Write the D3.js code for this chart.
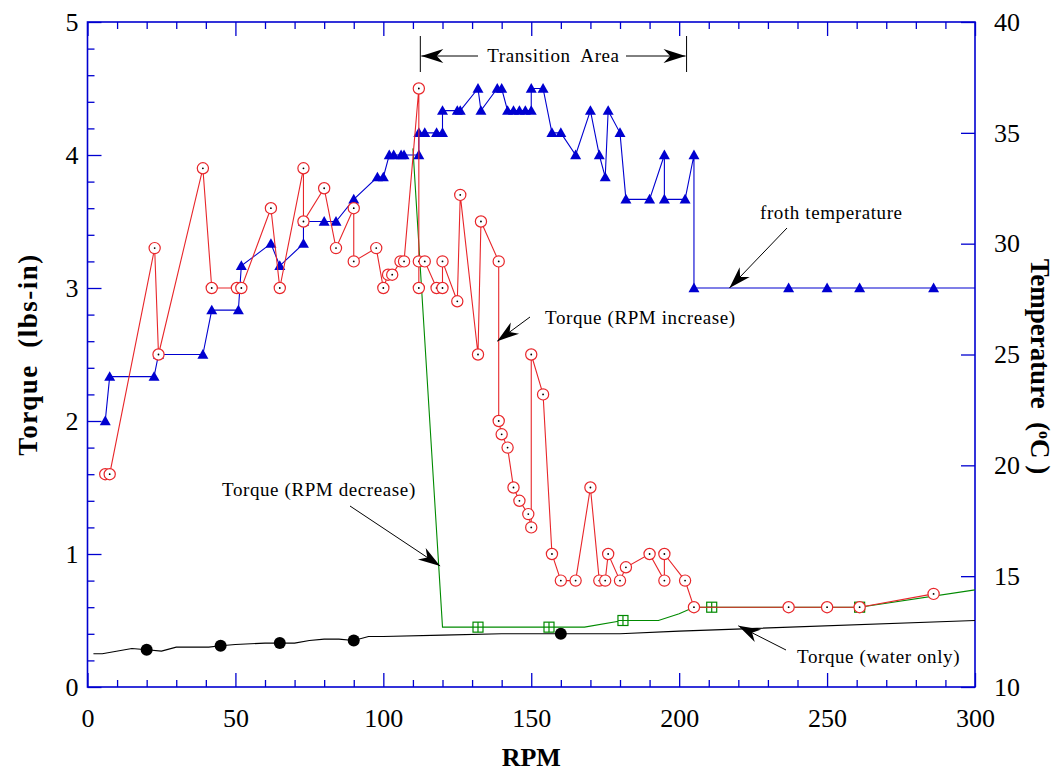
<!DOCTYPE html>
<html><head><meta charset="utf-8">
<script src="https://cdn.jsdelivr.net/npm/d3@7"></script>
<style>
body{margin:0;background:#fff}
text{font-family:"Liberation Serif","Times New Roman",serif;fill:#000}
</style>
</head><body>
<svg id="chart" width="1063" height="773"></svg>
<script>
// ---------- data ----------
// Froth temperature (°C) vs RPM (blue triangles, right axis)
const tempRpm = [6,7.5,22.5,24,39,42,51,52,62,65,73,73,80,84,90,98,100,102,103.5,106,107,112,112,114,118,120,120,125,126,132,133,138.5,140,142,144,146,148,150,150,154,157,160,165,170,173,175,176,180,182,190,195,195,202,205,205,237,250,261,286];
const tempC   = [22,24,24,25,25,27,27,29,30,29,30,31,31,31,32,33,33,34,34,34,34,34,35,35,35,35,36,36,36,37,36,37,37,36,36,36,36,36,37,37,35,35,34,36,34,33,36,35,32,32,34,32,32,34,28,28,28,28,28];
const tempEndRpm = 300, tempEndC = 28;

// Torque, RPM increase (red open circles)
const incRpm = [6,7.5,22.7,24,39,42,50.5,52,62,65,73,73,80,84,90,90,97.6,100,101.6,103,105.8,107,112,112,112,114,118,120,120,125,126,132,133,139,139,140,142,144,146,149,150,150,154,157,160,165,170,173,175,176,180,182,190,195,195,202,205,237,250,261,286];
const incTorque = [1.6,1.6,3.3,2.5,3.9,3.0,3.0,3.0,3.6,3.0,3.9,3.5,3.75,3.3,3.6,3.2,3.3,3.0,3.1,3.1,3.2,3.2,4.5,3.0,3.2,3.2,3.0,3.0,3.2,2.9,3.7,2.5,3.5,3.2,2.0,1.9,1.8,1.5,1.4,1.3,1.2,2.5,2.2,1.0,0.8,0.8,1.5,0.8,0.8,1.0,0.8,0.9,1.0,0.8,1.0,0.8,0.6,0.6,0.6,0.6,0.7];

// Torque, RPM decrease (green line + crossed squares)
const decRpm = [110,120,132,156,168,181,193,200,205,211,261,300];
const decTorque = [4.05,0.45,0.45,0.45,0.45,0.5,0.5,0.55,0.6,0.6,0.6,0.73];
const decMarkRpm = [132,156,181,211,261];
const decMarkTorque = [0.45,0.45,0.5,0.6,0.6];

// Torque, water only (black line + filled circles)
const waterRpm = [2,5,15,20,25,30,41,45,50,60,65,70,75,80,85,90,95,100,120,140,160,180,200,300];
const waterTorque = [0.25,0.25,0.29,0.28,0.27,0.30,0.30,0.31,0.32,0.33,0.33,0.33,0.35,0.36,0.36,0.35,0.38,0.38,0.39,0.40,0.40,0.40,0.42,0.50];
const waterMarkRpm = [20,45,65,90,160];
const waterMarkTorque = [0.28,0.31,0.33,0.35,0.40];

// ticks
const xTickVals = [0,50,100,150,200,250,300];
const yTickVals = [0,1,2,3,4,5];
const tTickVals = [10,15,20,25,30,35,40];

// annotation anchor
const transitionRange = [112.5, 202.5];

// ---------- drawing ----------
const BLUE = "#0000d0", RED = "#e8262a", GREEN = "#008a00";
const svg = d3.select("#chart");
const L = 87.5, R = 975, T = 22, B = 687;
const x = d3.scaleLinear([0,300],[L,R]);
const y = d3.scaleLinear([0,5],[B,T]);
const yT = d3.scaleLinear([10,40],[B,T]);

function styleAxis(g){
  g.select(".domain").remove();
  g.selectAll(".tick line").attr("stroke",BLUE).attr("stroke-width",1.3);
  g.selectAll(".tick text").style("font-family","'Liberation Serif',serif").style("font-size","26px").attr("fill","#000");
  return g;
}
const minorX = d3.range(0,301,10).filter(v=>v%50!==0);
const minorY = d3.range(0,5.01,0.2).map(v=>+v.toFixed(1)).filter(v=>Math.abs(v-Math.round(v))>1e-6);

// bottom
styleAxis(svg.append("g").attr("transform",`translate(0,${B})`).call(d3.axisBottom(x).tickValues(minorX).tickSize(-7).tickFormat("")));
styleAxis(svg.append("g").attr("transform",`translate(0,${B})`).call(d3.axisBottom(x).tickValues(xTickVals).tickSize(-14).tickPadding(22).tickFormat(d3.format("d"))));
// top
styleAxis(svg.append("g").attr("transform",`translate(0,${T})`).call(d3.axisTop(x).tickValues(minorX).tickSize(-7).tickFormat("")));
styleAxis(svg.append("g").attr("transform",`translate(0,${T})`).call(d3.axisTop(x).tickValues(xTickVals).tickSize(-14).tickFormat("")));
// left
styleAxis(svg.append("g").attr("transform",`translate(${L},0)`).call(d3.axisLeft(y).tickValues(minorY).tickSize(-7).tickFormat("")));
styleAxis(svg.append("g").attr("transform",`translate(${L},0)`).call(d3.axisLeft(y).tickValues(yTickVals).tickSize(-14).tickPadding(9).tickFormat(d3.format("d"))));
// right
styleAxis(svg.append("g").attr("transform",`translate(${R},0)`).call(d3.axisRight(yT).tickValues(tTickVals).tickSize(-14).tickPadding(19).tickFormat(d3.format("d"))));

// frame
svg.append("rect").attr("x",L).attr("y",T).attr("width",R-L).attr("height",B-T)
  .attr("fill","none").attr("stroke",BLUE).attr("stroke-width",1.6);

// axis titles
svg.append("text").attr("x",(L+R)/2).attr("y",766).attr("text-anchor","middle")
  .style("font-size","26px").style("font-weight","bold").text("RPM");
svg.append("text").attr("transform",`translate(37,${(T+B)/2}) rotate(-90)`).attr("text-anchor","middle")
  .style("font-size","27px").style("font-weight","bold").style("letter-spacing","1.5px")
  .attr("xml:space","preserve").text("Torque  (lbs-in)");
const tt = svg.append("text").attr("transform",`translate(1031,${(T+B)/2+12}) rotate(90)`).attr("text-anchor","middle")
  .style("font-size","27px").style("font-weight","bold").attr("xml:space","preserve");
tt.append("tspan").text("Temperature  (");
tt.append("tspan").attr("baseline-shift","super").style("font-size","16px").text("o");
tt.append("tspan").text("C )");

// ---------- series ----------
const line = d3.line().x(d=>x(d[0])).y(d=>d[1]);

// water only
const waterPts = waterRpm.map((r,i)=>[r,y(waterTorque[i])]);
svg.append("path").attr("d",line(waterPts)).attr("fill","none").attr("stroke","#000").attr("stroke-width",1.1);
svg.append("g").selectAll("circle").data(waterMarkRpm).join("circle")
  .attr("cx",d=>x(d)).attr("cy",(d,i)=>y(waterMarkTorque[i])).attr("r",6).attr("fill","#000");

// RPM decrease
const decPts = decRpm.map((r,i)=>[r,y(decTorque[i])]);
svg.append("path").attr("d",line(decPts)).attr("fill","none").attr("stroke",GREEN).attr("stroke-width",1.1);
const dm = svg.append("g").selectAll("g").data(decMarkRpm).join("g")
  .attr("transform",(d,i)=>`translate(${x(d)},${y(decMarkTorque[i])})`);
dm.append("rect").attr("x",-5).attr("y",-5).attr("width",10).attr("height",10).attr("fill","#fff").attr("stroke",GREEN).attr("stroke-width",1.2);
dm.append("path").attr("d","M0,-5V5M-5,0H5").attr("stroke",GREEN).attr("stroke-width",1.2);

// temperature
const tempPts = tempRpm.map((r,i)=>[r,yT(tempC[i])]).concat([[tempEndRpm,yT(tempEndC)]]);
svg.append("path").attr("d",line(tempPts)).attr("fill","none").attr("stroke",BLUE).attr("stroke-width",1.1);
svg.append("g").selectAll("path").data(tempRpm).join("path")
  .attr("transform",(d,i)=>`translate(${x(d)},${yT(tempC[i])})`)
  .attr("d","M0,-5.5L5.5,4.2L-5.5,4.2Z").attr("fill",BLUE);

// RPM increase
const incPts = incRpm.map((r,i)=>[r,y(incTorque[i])]);
svg.append("path").attr("d",line(incPts)).attr("fill","none").attr("stroke",RED).attr("stroke-width",1.1);
const im = svg.append("g").selectAll("g").data(incRpm).join("g")
  .attr("transform",(d,i)=>`translate(${x(d)},${y(incTorque[i])})`);
im.append("circle").attr("r",5.6).attr("fill","#fff").attr("stroke",RED).attr("stroke-width",1.2);
im.append("circle").attr("r",0.9).attr("fill","#000");

// ---------- annotations ----------
function arrow(x1,y1,x2,y2){
  svg.append("line").attr("x1",x1).attr("y1",y1).attr("x2",x2).attr("y2",y2).attr("stroke","#000").attr("stroke-width",1);
  const a = Math.atan2(y2-y1,x2-x1), len=22, w=7;
  const bx = x2-len*Math.cos(a), by = y2-len*Math.sin(a);
  const nx = -Math.sin(a), ny = Math.cos(a);
  const mx = x2-(len*0.7)*Math.cos(a), my = y2-(len*0.7)*Math.sin(a);
  svg.append("path").attr("d",`M${x2},${y2}L${bx+nx*w},${by+ny*w}L${mx},${my}L${bx-nx*w},${by-ny*w}Z`).attr("fill","#000");
}
function label(tx,ty,s){
  svg.append("text").attr("x",tx).attr("y",ty).style("font-size","19px").style("letter-spacing","0.6px")
    .attr("xml:space","preserve").text(s);
}
// transition area
const tx1 = x(transitionRange[0]), tx2 = x(transitionRange[1]);
svg.append("line").attr("x1",tx1).attr("x2",tx1).attr("y1",36).attr("y2",72).attr("stroke","#000");
svg.append("line").attr("x1",tx2).attr("x2",tx2).attr("y1",36).attr("y2",72).attr("stroke","#000");
svg.append("text").attr("x",(tx1+tx2)/2).attr("y",62).attr("text-anchor","middle").style("font-size","19px")
  .style("letter-spacing","0.6px").attr("xml:space","preserve").text("Transition  Area");
arrow(478,56,tx1+1,56);
arrow(626,56,tx2-1,56);

label(760,219,"froth temperature");
arrow(787,228,x(217),y(3.0));
label(545,324,"Torque (RPM increase)");
arrow(530,317,x(138.5),y(2.6));
label(222,496,"Torque (RPM decrease)");
arrow(350,506,x(119.2),y(0.91));
label(797,663,"Torque (water only)");
arrow(786,650,x(220),y(0.46));
</script>
</body></html>
